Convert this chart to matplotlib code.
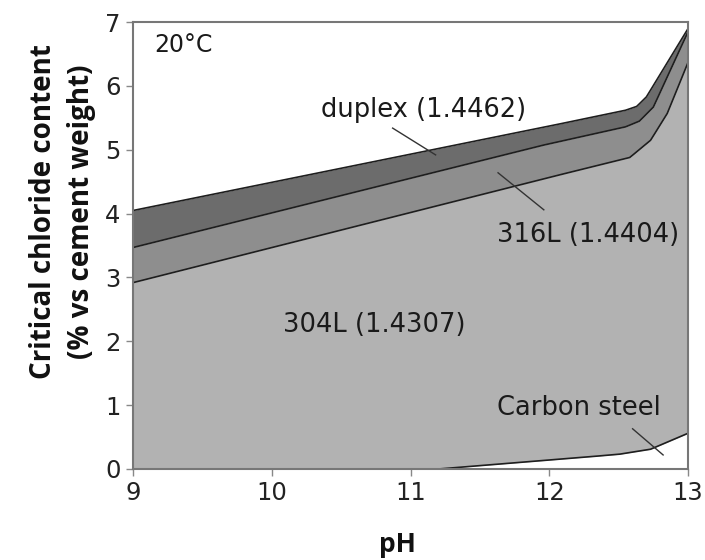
import numpy as np
import matplotlib
matplotlib.use("Agg")
import matplotlib.pyplot as plt

# curves (pH, critical chloride %)
duplex_ph = [9.0, 11.93, 12.55, 12.63, 12.70, 13.0]
duplex_cl = [4.05, 5.34, 5.62, 5.68, 5.83, 6.90]

l316_ph = [9.0, 11.93, 12.55, 12.65, 12.75, 13.0]
l316_cl = [3.47, 5.06, 5.36, 5.45, 5.67, 6.85]

l304_ph = [9.0, 11.93, 12.58, 12.73, 12.85, 13.0]
l304_cl = [2.92, 4.53, 4.88, 5.15, 5.57, 6.37]

carbon_ph = [9.0, 11.2, 12.0, 12.5, 12.73, 13.0]
carbon_cl = [0.0, 0.0, 0.14, 0.23, 0.31, 0.56]

x_ticks = [9, 10, 11, 12, 13]
y_ticks = [0, 1, 2, 3, 4, 5, 6, 7]

grid = np.linspace(9, 13, 400)
duplex = np.interp(grid, duplex_ph, duplex_cl)
l316 = np.interp(grid, l316_ph, l316_cl)
l304 = np.interp(grid, l304_ph, l304_cl)
carbon = np.interp(grid, carbon_ph, carbon_cl)

fig = plt.figure(figsize=(7.05, 5.6), dpi=100)
ax = fig.add_axes([0.189, 0.1625, 0.787, 0.798])

ax.fill_between(grid, l316, duplex, color="#6c6c6c", lw=0)
ax.fill_between(grid, l304, l316, color="#8e8e8e", lw=0)
ax.fill_between(grid, carbon, l304, color="#b2b2b2", lw=0)

for y in (duplex, l316, l304, carbon):
    ax.plot(grid, y, color="#1e1e1e", lw=1.2)

ax.set_xlim(9, 13)
ax.set_ylim(0, 7)
ax.set_xticks(x_ticks)
ax.set_yticks(y_ticks)
ax.tick_params(direction="out", length=5, width=1, color="#888888",
               labelsize=17.5, labelcolor="#222222", pad=4)
for s in ax.spines.values():
    s.set_color("#777777")
    s.set_linewidth(1.5)

ax.set_xlabel("pH", fontsize=19, fontweight="bold", family="Open Sans",
              color="#111111", va="center")
ax.xaxis.set_label_coords(0.477, -0.168)
ax.set_ylabel("Critical chloride content\n(% vs cement weight)", fontsize=20,
              fontweight="bold", family="Open Sans", color="#111111",
              linespacing=1.4, va="center")
ax.yaxis.set_label_coords(-0.128, 0.575)

txt = dict(fontsize=18.5, color="#1a1a1a", ha="center", va="center")
ax.text(9.36, 6.64, "20\u00b0C", fontsize=17, color="#1a1a1a", ha="center", va="center")
ax.text(11.09, 5.62, "duplex (1.4462)", **txt)
ax.text(12.28, 3.66, "316L (1.4404)", **txt)
ax.text(10.74, 2.25, "304L (1.4307)", **txt)
ax.text(12.21, 0.95, "Carbon steel", **txt)

lead = dict(color="#333333", lw=1.0)
ax.plot([10.87, 11.18], [5.34, 4.92], **lead)
ax.plot([11.63, 11.96], [4.64, 4.06], **lead)
ax.plot([12.60, 12.82], [0.63, 0.22], **lead)

fig.savefig("out.png", dpi=100)
